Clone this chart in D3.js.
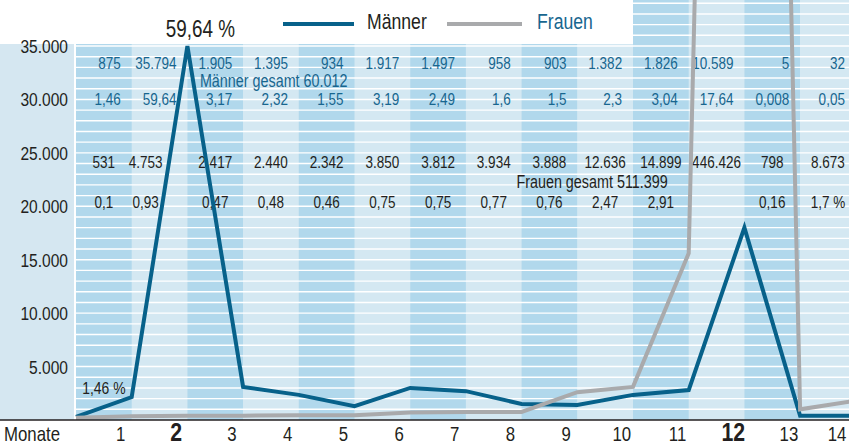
<!DOCTYPE html>
<html>
<head>
<meta charset="utf-8">
<script src="https://cdn.jsdelivr.net/npm/d3@7"></script>
<style>
  html, body { margin: 0; padding: 0; background: #fff; }
  svg { display: block; }
  text { font-family: "Liberation Sans", Arial, sans-serif; }
</style>
</head>
<body>
<div id="chart"></div>
<script>
// Monatliche Werte Männer / Frauen mit Tabellenzeilen oben

const months = [1, 2, 3, 4, 5, 6, 7, 8, 9, 10, 11, 12, 13, 14];
const boldMonths = [2, 12];

// Tabellenwerte
const menCount = [875, 35794, 1905, 1395, 934, 1917, 1497, 958, 903, 1382, 1826, 10589, 5, 32];
const menPct = [1.46, 59.64, 3.17, 2.32, 1.55, 3.19, 2.49, 1.6, 1.5, 2.3, 3.04, 17.64, 0.008, 0.05];
const womenCount = [531, 4753, 2417, 2440, 2342, 3850, 3812, 3934, 3888, 12636, 14899, 446426, 798, 8673];
const womenPct = [0.1, 0.93, 0.47, 0.48, 0.46, 0.75, 0.75, 0.77, 0.76, 2.47, 2.91, null, 0.16, 1.7];
const menTotal = 60012;
const womenTotal = 511399;

// Linienpunkte (an den Monatsgrenzen, 0..14)
const menLine = [300, 2150, 35000, 3100, 2350, 1300, 3000, 2700, 1500, 1400, 2350, 2800, 18000, 400, 400];
const womenLine = [200, 350, 400, 400, 450, 450, 700, 750, 750, 2600, 3100, 15600, 236000, 1000, 1800];

const yTicks = [5000, 10000, 15000, 20000, 25000, 30000, 35000];

const W = 849, H = 446;
const plotLeft = 76, plotTop = 44, plotBottom = 420;
const colW = 55.7;
const extFrom = 10; // ab Spalte 11 reicht der Hintergrund bis oben
const narrow = 0.82; // schmale Schrift durch horizontale Stauchung

const C = {
  dark: "#b1d8ec",
  light: "#d4e8f2",
  panel: "#d5e7f1",
  men: "#07618a",
  women: "#a9aaac",
  blueText: "#17668f",
  text: "#231f20"
};

const de = d3.formatLocale({ decimal: ",", thousands: ".", grouping: [3], currency: ["", "€"] });
const fmtInt = de.format(",d");
const fmtPct = de.format(",~f");

const x = d3.scaleLinear().domain([0, 14]).range([plotLeft, plotLeft + colW * 14]);
const y = d3.scaleLinear().domain([0, 35000]).range([plotBottom, 46]);

const svg = d3.select("#chart").append("svg")
  .attr("width", W)
  .attr("height", H);

// Text mit schmaler Laufweite
function label(sel, px, py) {
  return sel.attr("transform", (d, i) => {
    const tx = typeof px === "function" ? px(d, i) : px;
    const ty = typeof py === "function" ? py(d, i) : py;
    return `translate(${tx},${ty}) scale(${narrow},1)`;
  });
}

// linke Achsenfläche
svg.append("rect")
  .attr("x", 0).attr("y", plotTop)
  .attr("width", plotLeft - 2).attr("height", plotBottom - plotTop)
  .attr("fill", C.panel);

// Monatsspalten
svg.append("g").selectAll("rect")
  .data(months)
  .join("rect")
  .attr("x", (d, i) => x(i))
  .attr("y", (d, i) => i >= extFrom ? 0 : plotTop)
  .attr("width", colW + 0.5)
  .attr("height", (d, i) => plotBottom - (i >= extFrom ? 0 : plotTop))
  .attr("fill", (d, i) => i % 2 === 0 ? C.dark : C.light);

// weiße Rasterlinien alle 1.000
const gridVals = d3.range(1000, 40000, 1000);
svg.append("g").selectAll("line")
  .data(gridVals)
  .join("line")
  .attr("x1", d => y(d) >= plotTop ? plotLeft : x(extFrom))
  .attr("x2", W)
  .attr("y1", d => y(d))
  .attr("y2", d => y(d))
  .attr("stroke", "#fff")
  .attr("stroke-width", 1.4);

// y-Achsenbeschriftung
svg.append("g").selectAll("text")
  .data(yTicks)
  .join("text")
  .call(label, 68, d => y(d) + 7)
  .attr("text-anchor", "end")
  .attr("font-size", 19)
  .attr("fill", C.text)
  .text(d => fmtInt(d));

// Tabellenzeilen
const cx = i => x(i) + colW / 2;
// Frauen-Werte in der Spalte vor der Männer-Spitze rücken nach links
const peakCol = menLine.indexOf(d3.max(menLine)) - 1;
const womenDx = i => i === peakCol ? -14 : 0;

function row(values, fmt, baseY, color, anchor, dx) {
  svg.append("g").selectAll("text")
    .data(values.map((v, i) => ({ v, i })).filter(d => d.v !== null))
    .join("text")
    .call(label, d => cx(d.i) + dx(d.i), baseY)
    .attr("text-anchor", anchor)
    .attr("font-size", 16.5)
    .attr("fill", color)
    .text(d => fmt(d.v, d.i));
}

row(menCount, v => fmtInt(v), 69, C.blueText, "end", () => 17);
row(menPct, v => fmtPct(v), 105, C.blueText, "end", () => 17);
row(womenCount, v => fmtInt(v), 168, C.text, "middle", womenDx);
row(womenPct, (v, i) => fmtPct(v) + (i === womenPct.length - 1 ? " %" : ""), 208, C.text, "middle", womenDx);

svg.append("text")
  .call(label, x(2) + 12.5, 87)
  .attr("font-size", 17.5).attr("fill", C.blueText)
  .text("Männer gesamt " + fmtInt(menTotal));

svg.append("text")
  .call(label, x(11) - 21, 188)
  .attr("text-anchor", "end")
  .attr("font-size", 17.5).attr("fill", C.text)
  .text("Frauen gesamt " + fmtInt(womenTotal));

// Linien
const line = d3.line()
  .x((d, i) => x(i))
  .y(d => y(d));

svg.append("path")
  .datum(menLine)
  .attr("d", line)
  .attr("fill", "none")
  .attr("stroke", C.men)
  .attr("stroke-width", 4);

svg.append("path")
  .datum(womenLine)
  .attr("d", line)
  .attr("fill", "none")
  .attr("stroke", C.women)
  .attr("stroke-width", 4);

// Spitzenwert und Startwert
svg.append("text")
  .call(label, x(2) + 13, 37)
  .attr("text-anchor", "middle")
  .attr("font-size", 23).attr("fill", C.text)
  .text(fmtPct(menPct[1]) + " %");

svg.append("text")
  .call(label, cx(0), 394)
  .attr("text-anchor", "middle")
  .attr("font-size", 17).attr("fill", C.text)
  .text(fmtPct(menPct[0]) + " %");

// Grundlinie
svg.append("line")
  .attr("x1", 0).attr("x2", W)
  .attr("y1", plotBottom).attr("y2", plotBottom)
  .attr("stroke", C.text)
  .attr("stroke-width", 1.6);

// x-Achse
svg.append("text")
  .call(label, 4, 441)
  .attr("font-size", 20.5).attr("fill", C.text)
  .text("Monate");

svg.append("g").selectAll("text")
  .data(months)
  .join("text")
  .call(label, (d, i) => Math.min(x(i) + colW * 0.8, W - 12), 441)
  .attr("text-anchor", "middle")
  .attr("font-size", d => boldMonths.includes(d) ? 26 : 20.5)
  .attr("font-weight", d => boldMonths.includes(d) ? "bold" : "normal")
  .attr("fill", C.text)
  .text(d => d);

// Legende
const legend = svg.append("g");
legend.append("line")
  .attr("x1", 283).attr("x2", 354).attr("y1", 24).attr("y2", 24)
  .attr("stroke", C.men).attr("stroke-width", 4);
legend.append("text")
  .call(label, 367, 29)
  .attr("font-size", 21.5).attr("fill", C.text)
  .text("Männer");
legend.append("line")
  .attr("x1", 447).attr("x2", 522).attr("y1", 24).attr("y2", 24)
  .attr("stroke", C.women).attr("stroke-width", 4);
legend.append("text")
  .call(label, 537, 29)
  .attr("font-size", 21.5).attr("fill", C.blueText)
  .text("Frauen");
</script>
</body>
</html>
